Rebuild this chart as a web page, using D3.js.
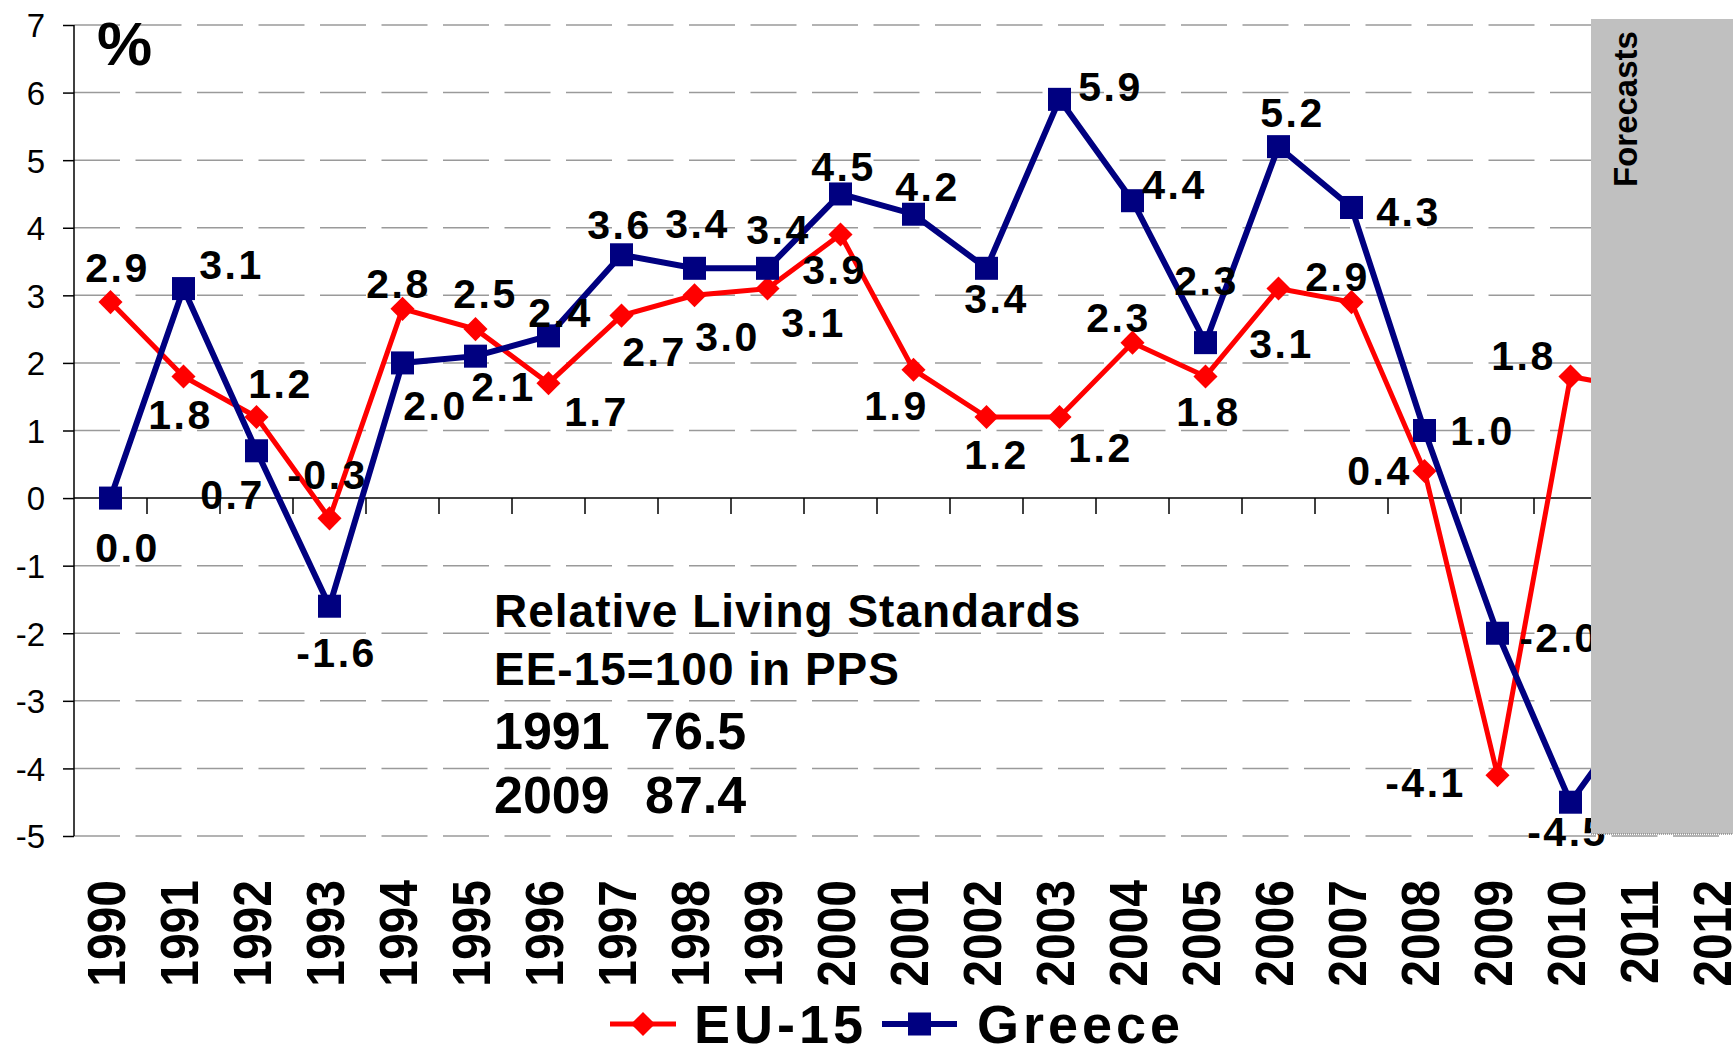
<!DOCTYPE html>
<html>
<head>
<meta charset="utf-8">
<script src="https://cdn.jsdelivr.net/npm/d3@7"></script>
<style>
  body { margin: 0; background: #fff; }
  svg { display: block; font-family: "Liberation Sans", Arial, sans-serif; }
  .grid line { stroke: #9a9a9a; stroke-width: 1.5; stroke-dasharray: 46 15.5; }
  .y-axis path { display: none; }
  .y-axis line { stroke: #000; stroke-width: 1.5; }
  .y-axis text { font-size: 33px; fill: #000; }
  .point-label { font-size: 41px; font-weight: bold; letter-spacing: 2.5px; fill: #000; text-anchor: middle; }
  .year-label { font-size: 48px; font-weight: bold; fill: #000; text-anchor: end; }
</style>
</head>
<body>
<svg id="chart" width="1733" height="1049"></svg>
<script>
// data
const years = ["1990", "1991", "1992", "1993", "1994", "1995", "1996", "1997", "1998", "1999", "2000",
               "2001", "2002", "2003", "2004", "2005", "2006", "2007", "2008", "2009", "2010", "2011", "2012"];
const euGrowth = [2.9, 1.8, 1.2, -0.3, 2.8, 2.5, 1.7, 2.7, 3.0, 3.1, 3.9,
                  1.9, 1.2, 1.2, 2.3, 1.8, 3.1, 2.9, 0.4, -4.1, 1.8, 1.6];
const greeceGrowth = [0.0, 3.1, 0.7, -1.6, 2.0, 2.1, 2.4, 3.6, 3.4, 3.4, 4.5,
                      4.2, 3.4, 5.9, 4.4, 2.3, 5.2, 4.3, 1.0, -2.0, -4.5, -3.0];
const yTicks = [-5, -4, -3, -2, -1, 0, 1, 2, 3, 4, 5, 6, 7];
const seriesNames = ["EU-15", "Greece"];
const labelledYears = 21; // 1990-2010 carry value labels
const forecastStart = "2010"; // shaded zone starts inside the 2010 band
const noteLines = ["Relative Living Standards", "EE-15=100 in PPS"];
const noteYears = ["1991", "2009"];
const noteValues = ["76.5", "87.4"];

// label placement relative to each marker [dx, baseline dy]
const euLabelOffsets = [[7, -20], [-3, 53], [24, -19], [-2, -29], [-4, -11], [10, -21], [48, 43], [33, 50], [33, 56], [46, 48], [-6, 49],
                        [-17, 50], [10, 52], [41, 45], [-14, -11], [3, 50], [3, 69], [-14, -11], [-45, 14], [-72, 22], [-47, -6]];
const greeceLabelOffsets = [[17, 64], [48, -10], [-24, 58], [7, 61], [33, 57], [28, 45], [12, -9], [-2, -16], [3, -30], [11, -24], [3, -13],
                            [14, -13], [10, 45], [51, 2], [42, -2], [1, -48], [14, -20], [57, 19], [58, 14], [62, 19], [-3, 44]];

const svg = d3.select("#chart");
const plotLeft = 74, plotRight = 1753, plotTop = 25, plotBottom = 836;

const x = d3.scaleBand().domain(years).range([plotLeft, plotRight]).padding(0);
const y = d3.scaleLinear().domain([-5, 7]).range([plotBottom, plotTop]);
const cx = d => x(d) + x.bandwidth() / 2;

// gridlines
svg.append("g").attr("class", "grid")
  .selectAll("line")
  .data(yTicks.filter(t => t !== 0))
  .join("line")
  .attr("x1", plotLeft).attr("x2", plotRight)
  .attr("y1", d => y(d)).attr("y2", d => y(d));

// y axis (plain hyphen minus, as in the original)
const yAxis = svg.append("g")
  .attr("class", "y-axis")
  .attr("transform", `translate(${plotLeft},0)`)
  .call(d3.axisLeft(y).tickValues(yTicks).tickSize(11).tickPadding(18).tickFormat(d => String(d)));
yAxis.selectAll("text").attr("dy", "0.36em");
svg.append("line")
  .attr("x1", plotLeft).attr("x2", plotLeft)
  .attr("y1", y(7)).attr("y2", y(-5))
  .attr("stroke", "#000").attr("stroke-width", 1.5);

// zero line with category ticks
svg.append("line")
  .attr("x1", plotLeft).attr("x2", plotRight)
  .attr("y1", y(0)).attr("y2", y(0))
  .attr("stroke", "#000").attr("stroke-width", 1.5);
svg.append("g")
  .selectAll("line")
  .data(years.slice(1))
  .join("line")
  .attr("x1", d => x(d)).attr("x2", d => x(d))
  .attr("y1", y(0)).attr("y2", y(0) + 16)
  .attr("stroke", "#000").attr("stroke-width", 1.5);

// series
const series = [
  { name: seriesNames[0], values: euGrowth, color: "#FF0000", width: 5, marker: "diamond", offsets: euLabelOffsets },
  { name: seriesNames[1], values: greeceGrowth, color: "#000080", width: 6, marker: "square", offsets: greeceLabelOffsets }
];

const diamond = d3.symbol().type(d3.symbolSquare).size(290)();
const square = d3.symbol().type(d3.symbolSquare).size(530)();
const markerPath = m => m === "diamond" ? diamond : square;
const markerRot = m => m === "diamond" ? " rotate(45)" : "";

const line = d3.line()
  .x((v, i) => cx(years[i]))
  .y(v => y(v));

series.forEach(s => {
  const g = svg.append("g").attr("class", "series");
  g.append("path")
    .attr("d", line(s.values))
    .attr("fill", "none")
    .attr("stroke", s.color)
    .attr("stroke-width", s.width)
    .attr("stroke-linejoin", "miter");
  g.selectAll(".marker")
    .data(s.values)
    .join("path")
    .attr("class", "marker")
    .attr("d", markerPath(s.marker))
    .attr("transform", (v, i) => `translate(${cx(years[i])},${y(v)})${markerRot(s.marker)}`)
    .attr("fill", s.color);
});

// value labels
series.forEach(s => {
  svg.append("g")
    .selectAll("text")
    .data(s.values.slice(0, labelledYears))
    .join("text")
    .attr("class", "point-label")
    .attr("x", (v, i) => cx(years[i]) + s.offsets[i][0])
    .attr("y", (v, i) => y(v) + s.offsets[i][1])
    .text(v => v.toFixed(1));
});

// note box
const note = svg.append("g").attr("transform", "translate(494,0)");
note.selectAll(".note-head")
  .data(noteLines)
  .join("text")
  .attr("class", "note-head")
  .attr("y", (d, i) => 627 + i * 58)
  .attr("font-size", 46).attr("font-weight", "bold").attr("letter-spacing", 1)
  .text(d => d);
noteYears.forEach((yr, i) => {
  const t = note.append("text")
    .attr("y", 749 + i * 64)
    .attr("font-size", 52).attr("font-weight", "bold");
  t.append("tspan").attr("x", 0).text(yr);
  t.append("tspan").attr("x", 151).text(noteValues[i]);
});

// percent sign
svg.append("text")
  .attr("x", 97).attr("y", 65)
  .attr("font-size", 62).attr("font-weight", "bold")
  .text("%");

// forecast zone
const fx = cx(forecastStart) + 20.5;
svg.append("rect")
  .attr("x", fx).attr("y", 19)
  .attr("width", 1733 - fx).attr("height", y(-5) - 2 - 19)
  .attr("fill", "#C0C0C0");
svg.append("line")
  .attr("x1", fx).attr("x2", 1733)
  .attr("y1", y(-5) - 2).attr("y2", y(-5) - 2)
  .attr("stroke", "#8a8a8a").attr("stroke-width", 1.5).attr("stroke-dasharray", "1 1");
svg.append("text")
  .attr("transform", "translate(1637,187) rotate(-90)")
  .attr("font-size", 33).attr("font-weight", "bold")
  .text("Forecasts");

// year labels
svg.append("g")
  .selectAll("text")
  .data(years)
  .join("text")
  .attr("class", "year-label")
  .attr("transform", d => `translate(${cx(d) + 14.5},880) rotate(-90) scale(1,1.12)`)
  .text(d => d);

// legend
const legend = svg.append("g").attr("transform", "translate(0,1024)");
const legendItems = [
  { s: series[0], x0: 610, x1: 676, tx: 694 },
  { s: series[1], x0: 882, x1: 957, tx: 977 }
];
legendItems.forEach(it => {
  legend.append("line")
    .attr("x1", it.x0).attr("x2", it.x1)
    .attr("stroke", it.s.color).attr("stroke-width", it.s.width);
  legend.append("path")
    .attr("d", markerPath(it.s.marker))
    .attr("transform", `translate(${(it.x0 + it.x1) / 2},0)${markerRot(it.s.marker)}`)
    .attr("fill", it.s.color);
  legend.append("text")
    .attr("x", it.tx).attr("y", 19)
    .attr("font-size", 54).attr("font-weight", "bold").attr("letter-spacing", 4)
    .text(it.s.name);
});
</script>
</body>
</html>
